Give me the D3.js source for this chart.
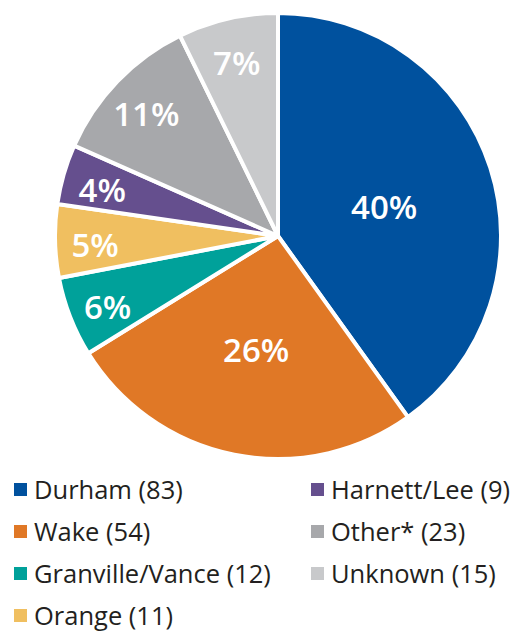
<!DOCTYPE html>
<html>
<head>
<meta charset="utf-8">
<script src="https://cdn.jsdelivr.net/npm/d3@7"></script>
<style>
  body { margin: 0; background: #fff; }
  text { font-family: "Open Sans", Lato, sans-serif; }
</style>
</head>
<body>
<script>
// chart data
var regions = ["Durham", "Wake", "Granville/Vance", "Orange", "Harnett/Lee", "Other*", "Unknown"];
var counts = [83, 54, 12, 11, 9, 23, 15];
var colors = ["#00519e", "#e07826", "#00a19a", "#f0bf60", "#654f8e", "#a7a8ab", "#c8c9cb"];
// legend layout: [column, row] for each region
var legendCol = [0, 0, 0, 0, 1, 1, 1];
var legendRow = [0, 1, 2, 3, 0, 1, 2];

var width = 514, height = 632;
var cx = 278, cy = 236, radius = 223;

var data = regions.map(function(r, i) {
    return {name: r, value: counts[i], color: colors[i], col: legendCol[i], row: legendRow[i]};
});
var total = d3.sum(counts);

var svg = d3.select("body").append("svg")
    .attr("width", width)
    .attr("height", height);

var g = svg.append("g")
    .attr("transform", "translate(" + cx + "," + cy + ")");

var pie = d3.pie()
    .sort(null)
    .value(function(d) { return d.value; });

var arc = d3.arc()
    .innerRadius(0)
    .outerRadius(radius);

var arcs = pie(data);

g.selectAll("path")
    .data(arcs)
    .enter().append("path")
    .attr("d", arc)
    .attr("fill", function(d) { return d.data.color; })
    .attr("stroke", "#fff")
    .attr("stroke-width", 4)
    .attr("stroke-linejoin", "round");

// big slices get labels nearer the centre
var labelArcBig = d3.arc().innerRadius(radius * 0.5).outerRadius(radius * 0.5);
var labelArcSmall = d3.arc().innerRadius(radius * 0.82).outerRadius(radius * 0.82);

g.selectAll(".lbl")
    .data(arcs)
    .enter().append("text")
    .attr("class", "lbl")
    .attr("transform", function(d) {
        var a = d.value / total > 0.2 ? labelArcBig : labelArcSmall;
        var c = a.centroid(d);
        return "translate(" + c[0] + "," + (c[1] + 5) + ")";
    })
    .attr("text-anchor", "middle")
    .attr("dy", "0.36em")
    .attr("fill", "#fff")
    .attr("font-size", 33)
    .attr("font-weight", 600)
    .text(function(d) { return Math.round(d.value / total * 100) + "%"; });

// legend
var legend = svg.append("g")
    .attr("transform", "translate(14,490)");

var item = legend.selectAll(".item")
    .data(data)
    .enter().append("g")
    .attr("class", "item")
    .attr("transform", function(d) {
        return "translate(" + (d.col * 297) + "," + (d.row * 42) + ")";
    });

item.append("rect")
    .attr("x", 0)
    .attr("y", -7)
    .attr("width", 13)
    .attr("height", 13)
    .attr("fill", function(d) { return d.color; });

item.append("text")
    .attr("x", 20)
    .attr("dy", "0.36em")
    .attr("fill", "#231f20")
    .attr("font-size", 25.5)
    .text(function(d) { return d.name + " (" + d.value + ")"; });
</script>
</body>
</html>
